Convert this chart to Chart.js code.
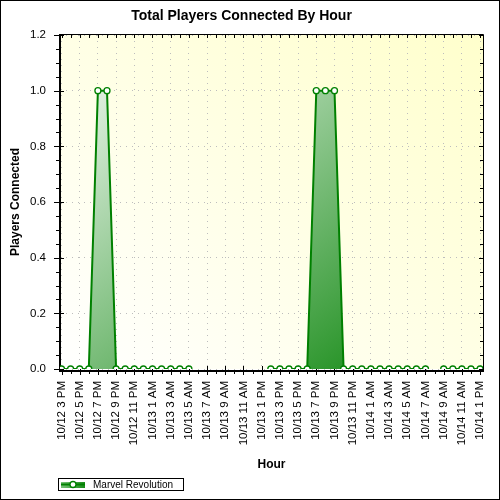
<!DOCTYPE html>
<html>
<head>
<meta charset="utf-8">
<title>Total Players Connected By Hour</title>
<script src="https://cdn.jsdelivr.net/npm/chart.js@4.4.1/dist/chart.umd.min.js"></script>
<style>
  html, body { margin: 0; padding: 0; background: #fff; }
  canvas { display: block; }
</style>
</head>
<body>
<canvas id="playersChart" width="500" height="500"></canvas>
<script>
// Data - one point per hour, null = no sample for that hour
const hourLabels = [
    '10/12 3 PM', '10/12 4 PM', '10/12 5 PM', '10/12 6 PM', '10/12 7 PM', '10/12 8 PM',
    '10/12 9 PM', '10/12 10 PM', '10/12 11 PM', '10/13 12 AM', '10/13 1 AM', '10/13 2 AM',
    '10/13 3 AM', '10/13 4 AM', '10/13 5 AM', '10/13 6 AM', '10/13 7 AM', '10/13 8 AM',
    '10/13 9 AM', '10/13 10 AM', '10/13 11 AM', '10/13 12 PM', '10/13 1 PM', '10/13 2 PM',
    '10/13 3 PM', '10/13 4 PM', '10/13 5 PM', '10/13 6 PM', '10/13 7 PM', '10/13 8 PM',
    '10/13 9 PM', '10/13 10 PM', '10/13 11 PM', '10/14 12 AM', '10/14 1 AM', '10/14 2 AM',
    '10/14 3 AM', '10/14 4 AM', '10/14 5 AM', '10/14 6 AM', '10/14 7 AM', '10/14 8 AM',
    '10/14 9 AM', '10/14 10 AM', '10/14 11 AM', '10/14 12 PM', '10/14 1 PM'
];
const playersConnected = [
    0, 0, 0, 0, 1, 1,
    0, 0, 0, 0, 0, 0,
    0, 0, 0, null, null, null,
    null, null, null, null, null, 0,
    0, 0, 0, 0, 1, 1,
    1, 0, 0, 0, 0, 0,
    0, 0, 0, 0, 0, null,
    0, 0, 0, 0, 0
];
const yTickValues = [0, 0.2, 0.4, 0.6, 0.8, 1.0, 1.2];
const seriesName = 'Marvel Revolution';

const FONT = 'Liberation Sans, Arial, sans-serif';
const LINE_GREEN = '#008000';

// 45 degree gradient scaled to the plot rectangle (like the old GDI fills)
function diagGradient(ctx, a, fromBottom, c0, c1) {
    const w = a.right - a.left, h = a.bottom - a.top;
    const gx = 1 / (2 * w), gy = 1 / (2 * h);
    const k = gx * gx + gy * gy;
    const vx = gx / k, vy = gy / k;
    const g = fromBottom
        ? ctx.createLinearGradient(a.left, a.bottom, a.left + vx, a.bottom - vy)
        : ctx.createLinearGradient(a.left, a.top, a.left + vx, a.top + vy);
    g.addColorStop(0, c0);
    g.addColorStop(1, c1);
    return g;
}

// Plot background
const plotBackground = {
    id: 'plotBackground',
    beforeDraw(chart) {
        const {ctx, chartArea: a} = chart;
        ctx.save();
        ctx.fillStyle = '#fff';
        ctx.fillRect(0, 0, chart.width, chart.height);
        ctx.fillStyle = diagGradient(ctx, a, true, '#ffffff', '#ffffcc');
        ctx.fillRect(a.left, a.top, a.right - a.left, a.bottom - a.top);
        ctx.restore();
    }
};

// Axis box with major / minor tick marks on all sides
const axisFrame = {
    id: 'axisFrame',
    beforeDatasetsDraw(chart) {
        const {ctx, chartArea: a, scales: {x, y}} = chart;
        ctx.save();
        ctx.strokeStyle = '#000';
        ctx.lineWidth = 1;
        ctx.beginPath();
        ctx.moveTo(a.left, a.top - 0.5);
        ctx.lineTo(a.right + 0.5, a.top - 0.5);
        ctx.lineTo(a.right + 0.5, a.bottom + 2);
        ctx.stroke();

        ctx.lineWidth = 2;
        ctx.beginPath();
        ctx.moveTo(a.left, a.top - 1);
        ctx.lineTo(a.left, a.bottom + 3);
        ctx.moveTo(a.left - 1, a.bottom + 2);
        ctx.lineTo(a.right + 1, a.bottom + 2);
        ctx.stroke();

        ctx.lineWidth = 1;
        ctx.beginPath();
        for (let i = 0; i <= 24; i++) {
            const py = Math.round(y.getPixelForValue(i * 0.05)) + 0.5;
            if (i % 4 === 0) {
                ctx.moveTo(a.left - 6, py); ctx.lineTo(a.left + 4, py);
                ctx.moveTo(a.right - 4, py); ctx.lineTo(a.right, py);
            } else {
                ctx.moveTo(a.left - 4, py); ctx.lineTo(a.left, py);
                ctx.moveTo(a.right - 3, py); ctx.lineTo(a.right, py);
            }
        }
        hourLabels.forEach((_, h) => {
            const px = Math.round(x.getPixelForValue(h)) + 0.5;
            if (h % 2 === 0) {
                ctx.moveTo(px, a.bottom - 3); ctx.lineTo(px, a.bottom + 6);
            } else {
                ctx.moveTo(px, a.bottom + 2); ctx.lineTo(px, a.bottom + 5);
            }
            ctx.moveTo(px, a.top); ctx.lineTo(px, a.top + 3);
        });
        ctx.stroke();
        ctx.restore();
    }
};

// Legend box and outer frame
const legendBox = {
    id: 'legendBox',
    afterDraw(chart) {
        const {ctx} = chart;
        ctx.save();
        ctx.fillStyle = '#fff';
        ctx.fillRect(58.5, 478.5, 125, 12);
        ctx.strokeStyle = '#000';
        ctx.lineWidth = 1;
        ctx.strokeRect(58.5, 478.5, 125, 12);

        const g = ctx.createLinearGradient(61, 482, 85, 488);
        g.addColorStop(0, '#7cc47c');
        g.addColorStop(1, '#168c16');
        ctx.fillStyle = g;
        ctx.fillRect(61, 482, 24, 6);
        ctx.strokeStyle = LINE_GREEN;
        ctx.lineWidth = 2;
        ctx.beginPath();
        ctx.moveTo(61, 484.5);
        ctx.lineTo(85, 484.5);
        ctx.stroke();
        ctx.fillStyle = '#fff';
        ctx.lineWidth = 1.3;
        ctx.beginPath();
        ctx.arc(73, 484.5, 3, 0, Math.PI * 2);
        ctx.fill();
        ctx.stroke();

        ctx.fillStyle = '#000';
        ctx.font = '10px ' + FONT;
        ctx.textBaseline = 'middle';
        ctx.fillText(chart.data.datasets[0].label, 93, 485);

        ctx.strokeStyle = '#000';
        ctx.lineWidth = 1;
        ctx.strokeRect(0.5, 0.5, 499, 499);
        ctx.restore();
    }
};

document.addEventListener('DOMContentLoaded', function() {
    const ctx = document.getElementById('playersChart').getContext('2d');
    new Chart(ctx, {
        type: 'line',
        data: {
            datasets: [{
                label: seriesName,
                data: playersConnected.map((v, i) => ({ x: i, y: v })),
                borderColor: LINE_GREEN,
                borderWidth: 2,
                tension: 0,
                spanGaps: false,
                fill: 'origin',
                backgroundColor: function(context) {
                    const {ctx, chartArea} = context.chart;
                    if (!chartArea) return 'rgba(0, 128, 0, 0.5)';
                    return diagGradient(ctx, chartArea, false, '#ffffff', LINE_GREEN);
                },
                pointRadius: 3,
                pointBorderWidth: 1.3,
                pointBackgroundColor: '#fff',
                pointBorderColor: LINE_GREEN
            }]
        },
        options: {
            responsive: false,
            animation: false,
            layout: {
                padding: { left: 0, right: 17, top: 0, bottom: 28 }
            },
            plugins: {
                legend: { display: false },
                tooltip: { enabled: false },
                title: {
                    display: true,
                    text: 'Total Players Connected By Hour',
                    color: '#000',
                    font: { family: FONT, size: 14, weight: 'bold' },
                    padding: { top: 8, bottom: 10.2 }
                }
            },
            scales: {
                x: {
                    type: 'linear',
                    min: -0.165,
                    max: 46.32,
                    afterBuildTicks: function(scale) {
                        scale.ticks = hourLabels.map((_, i) => ({ value: i }));
                    },
                    afterFit: function(scale) {
                        scale.height = 103;
                        scale.paddingLeft = 0;
                        scale.paddingRight = 0;
                    },
                    grid: {
                        drawTicks: false,
                        color: function(c) {
                            return c.tick && c.tick.value % 2 === 0 ? '#bdbdbd' : 'rgba(0, 0, 0, 0)';
                        }
                    },
                    border: { display: false, dash: [1, 5] },
                    ticks: {
                        autoSkip: false,
                        maxRotation: 90,
                        minRotation: 90,
                        padding: 12,
                        color: '#000',
                        font: { family: FONT, size: 11.5 },
                        callback: function(value) {
                            return value % 2 === 0 ? hourLabels[value] : '';
                        }
                    },
                    title: {
                        display: true,
                        text: 'Hour',
                        color: '#000',
                        font: { family: FONT, size: 12, weight: 'bold' },
                        padding: { top: 0, bottom: 0 }
                    }
                },
                y: {
                    min: 0,
                    max: 1.2,
                    afterBuildTicks: function(scale) {
                        scale.ticks = yTickValues.map(v => ({ value: v }));
                    },
                    afterFit: function(scale) {
                        scale.width = 60;
                        scale.paddingTop = 0;
                        scale.paddingBottom = 0;
                    },
                    grid: { drawTicks: false, color: '#bdbdbd' },
                    border: { display: false, dash: [1, 5] },
                    ticks: {
                        padding: 14,
                        color: '#000',
                        font: { family: FONT, size: 11.5 },
                        callback: function(value) {
                            return value.toFixed(1);
                        }
                    },
                    title: {
                        display: true,
                        text: 'Players Connected',
                        color: '#000',
                        font: { family: FONT, size: 12, weight: 'bold' },
                        padding: { top: 8, bottom: 0 }
                    }
                }
            }
        },
        plugins: [plotBackground, axisFrame, legendBox]
    });
});
</script>
</body>
</html>
